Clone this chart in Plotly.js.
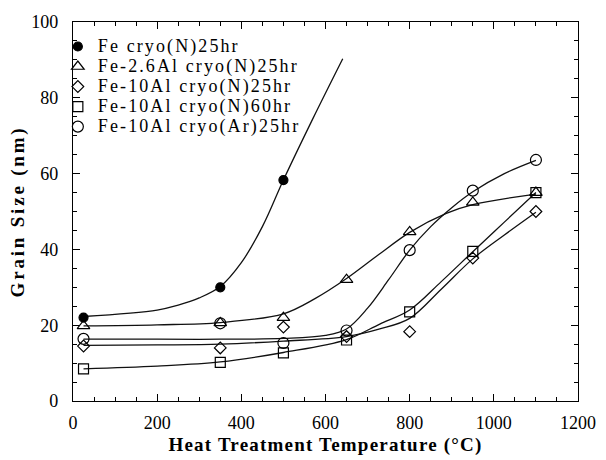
<!DOCTYPE html>
<html>
<head>
<meta charset="utf-8">
<script src="https://cdn.plot.ly/plotly-3.0.1.min.js"></script>
<style>
html,body{margin:0;padding:0;background:#fff;}
#chart{width:606px;height:460px;}
.legendtext{font-size:18px !important;letter-spacing:2.1px;}
.xtitle{letter-spacing:1.2px;}
.ytitle{letter-spacing:2.8px;}
</style>
</head>
<body>
<div id="chart"></div>
<script>
// Measured points
var seriesNames = ["Fe cryo(N)25hr", "Fe-2.6Al cryo(N)25hr", "Fe-10Al cryo(N)25hr", "Fe-10Al cryo(N)60hr", "Fe-10Al cryo(Ar)25hr"];
var feX = [25, 350, 500];
var feY = [22, 30, 58.3];
var al26X = [25, 350, 500, 650, 800, 950, 1100];
var al26Y = [19.8, 20.6, 22, 32, 44.6, 52.4, 55];
var al10N25X = [25, 350, 500, 650, 800, 950, 1100];
var al10N25Y = [14.5, 14, 19.5, 17, 18.3, 37.7, 50];
var al10N60X = [25, 350, 500, 650, 800, 950, 1100];
var al10N60Y = [8.5, 10.2, 12.7, 16.1, 23.5, 39.5, 55];
var al10ArX = [25, 350, 500, 650, 800, 950, 1100];
var al10ArY = [16.4, 20.5, 15.3, 18.6, 39.8, 55.5, 63.6];

// Fitted curves
var feCurveX = [25, 200, 250, 300, 350, 400, 450, 500, 570, 641];
var feCurveY = [22.3, 24, 25.3, 27.2, 30.2, 36.5, 46, 58.3, 74.5, 90.3];
var al26CurveX = [25, 200, 350, 500, 575, 650, 725, 800, 887, 950, 1100];
var al26CurveY = [19.8, 20.1, 20.7, 23, 27, 32.3, 38.5, 44.5, 49.5, 51.8, 54.6];
var al10N25CurveX = [25, 200, 350, 500, 650, 729, 800, 875, 950, 1025, 1100];
var al10N25CurveY = [14.7, 14.8, 15, 15.8, 17, 19, 21.8, 29.5, 37.5, 43.8, 49.8];
var al10N60CurveX = [25, 200, 350, 500, 650, 729, 800, 875, 950, 1025, 1100];
var al10N60CurveY = [8.5, 9.2, 10.3, 12.8, 16.2, 20.3, 24, 31.5, 39.4, 47.2, 55];
var al10ArCurveX = [25, 200, 350, 500, 600, 650, 700, 750, 800, 850, 900, 950, 1025, 1100];
var al10ArCurveY = [16.3, 16.3, 16.3, 16.5, 17.3, 19, 24.5, 32, 39.8, 46, 51, 55.2, 60, 63.5];

var xTicks = [0, 200, 400, 600, 800, 1000, 1200];
var yTicks = [0, 20, 40, 60, 80, 100];

var symbols = ["circle", "triangle-up-open", "diamond-open", "square-open", "circle-open"];
var sizes = [9, 11, 9, 10, 11];
var ptsX = [feX, al26X, al10N25X, al10N60X, al10ArX];
var ptsY = [feY, al26Y, al10N25Y, al10N60Y, al10ArY];
var crvX = [feCurveX, al26CurveX, al10N25CurveX, al10N60CurveX, al10ArCurveX];
var crvY = [feCurveY, al26CurveY, al10N25CurveY, al10N60CurveY, al10ArCurveY];

var traces = [];
for (var i = 0; i < 5; i++) {
  traces.push({x: crvX[i], y: crvY[i], mode: 'lines', type: 'scatter',
    line: {color: '#111', width: 1.3, shape: 'spline', smoothing: 1},
    showlegend: false, hoverinfo: 'skip'});
}
for (var j = 0; j < 5; j++) {
  traces.push({x: ptsX[j], y: ptsY[j], mode: 'markers', type: 'scatter', name: seriesNames[j],
    marker: {symbol: symbols[j], size: sizes[j], color: '#000', line: {color: '#000', width: 1.2}}});
}

var font = 'Liberation Serif, Times New Roman, serif';
var layout = {
  width: 606, height: 460,
  margin: {l: 73, r: 28, t: 22, b: 59},
  paper_bgcolor: '#fff', plot_bgcolor: '#fff',
  font: {family: font, color: '#000', size: 18},
  showlegend: true,
  legend: {x: -0.03, y: 0.975, xanchor: 'left', yanchor: 'top', bgcolor: 'rgba(0,0,0,0)',
    font: {family: font, size: 13.1, color: '#000'}, tracegroupgap: 0, itemwidth: 30},
  xaxis: {range: [0, 1200], tickvals: xTicks, ticktext: xTicks.map(String),
    ticks: 'inside', ticklen: 7, tickwidth: 1, tickcolor: '#000',
    minor: {dtick: 50, ticks: 'inside', ticklen: 4, tickcolor: '#000', showgrid: false},
    showline: true, linecolor: '#000', linewidth: 1.2, mirror: 'ticks',
    showgrid: false, zeroline: false, ticklabelstandoff: 5,
    tickfont: {family: font, size: 18},
    title: {text: 'Heat Treatment Temperature (°C)', font: {family: font, size: 19, weight: 'bold'}, standoff: 6}},
  yaxis: {range: [0, 100], tickvals: yTicks, ticktext: yTicks.map(String),
    ticks: 'inside', ticklen: 7, tickwidth: 1, tickcolor: '#000',
    minor: {dtick: 5, ticks: 'inside', ticklen: 4, tickcolor: '#000', showgrid: false},
    showline: true, linecolor: '#000', linewidth: 1.2, mirror: 'ticks',
    showgrid: false, zeroline: false, ticklabelstandoff: 10,
    tickfont: {family: font, size: 18},
    title: {text: 'Grain Size (nm)', font: {family: font, size: 19, weight: 'bold'}, standoff: 1}}
};

Plotly.newPlot('chart', traces, layout, {displayModeBar: false, staticPlot: true});
</script>
</body>
</html>
